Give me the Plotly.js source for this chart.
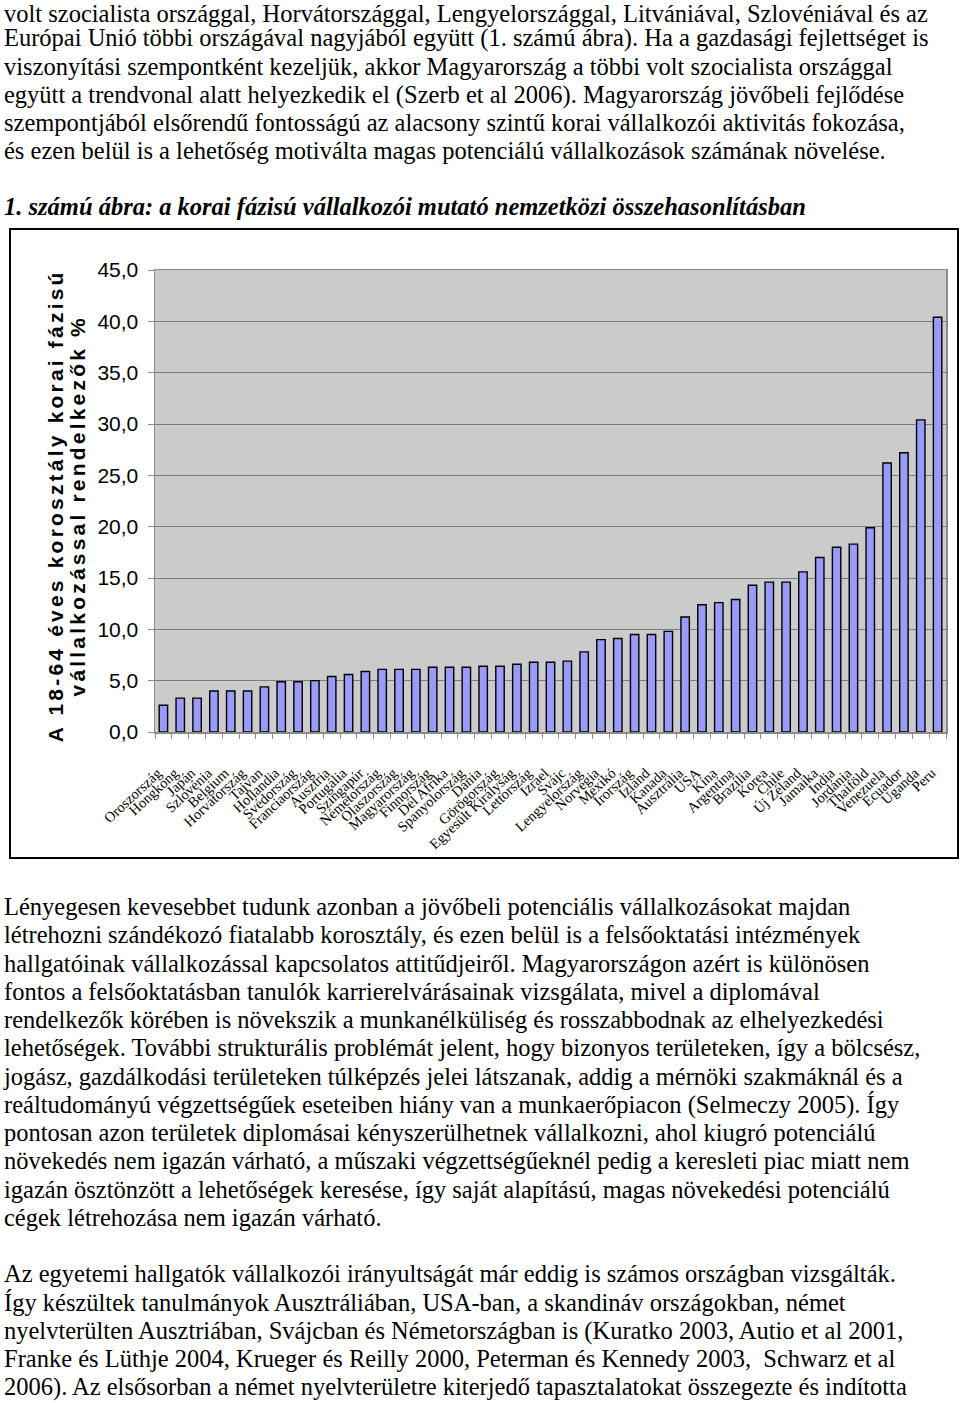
<!DOCTYPE html>
<html>
<head>
<meta charset="utf-8">
<script src="https://cdn.plot.ly/plotly-3.0.1.min.js"></script>
<style>
  body { margin:0; width:960px; height:1403px; position:relative; overflow:hidden; background:#fff; }
  .ln { position:absolute; left:4px; white-space:nowrap; font-family:'Liberation Serif','Times New Roman',serif; font-size:24.5px; line-height:20px; color:#000; }
  .cap { font-weight:bold; font-style:italic; }
  #box { position:absolute; left:9px; top:228px; width:950px; height:631px; border:2px solid #000; box-sizing:border-box; }
  #chart { position:absolute; left:0; top:0; width:946px; height:627px; }
</style>
</head>
<body>
<div id="text"></div>
<div id="box"><div id="chart"></div></div>
<script>
// ---------- data ----------
const categories = ["Oroszország","Hongkong","Japán","Szlovénia","Belgium","Horvátország","Tajvan","Hollandia","Svédország","Franciaország","Ausztria","Portugália","Szingapúr","Németország","Olaszország","Magyarország","Finnország","Dél Afrika","Spanyolország","Dánia","Görögország","Egyesült Királyság","Lettország","Izrael","Svájc","Lengyelország","Norvégia","Mexikó","Írország","Izland","Kanada","Ausztrália","USA","Kína","Argentína","Brazília","Korea","Chile","Új Zéland","Jamaika","India","Jordánia","Thaiföld","Venezuela","Ecuador","Uganda","Peru"];
const values = [2.6,3.3,3.3,4.0,4.0,4.0,4.4,4.9,4.9,5.0,5.4,5.6,5.9,6.1,6.1,6.1,6.3,6.3,6.3,6.4,6.4,6.6,6.8,6.8,6.9,7.8,9.0,9.1,9.5,9.5,9.8,11.2,12.4,12.6,12.9,14.3,14.6,14.6,15.6,17.0,18.0,18.3,19.9,26.2,27.2,30.4,40.4];
const yTitleLines = ["A 18-64 éves korosztály korai fázisú","vállalkozással rendelkezők %"];
const captionText = "1. számú ábra: a korai fázisú vállalkozói mutató nemzetközi összehasonlításban";
const topLines = [
 "volt szocialista országgal, Horvátországgal, Lengyelországgal, Litvániával, Szlovéniával és az",
 "Európai Unió többi országával nagyjából együtt (1. számú ábra). Ha a gazdasági fejlettséget is",
 "viszonyítási szempontként kezeljük, akkor Magyarország a többi volt szocialista országgal",
 "együtt a trendvonal alatt helyezkedik el (Szerb et al 2006). Magyarország jövőbeli fejlődése",
 "szempontjából elsőrendű fontosságú az alacsony szintű korai vállalkozói aktivitás fokozása,",
 "és ezen belül is a lehetőség motiválta magas potenciálú vállalkozások számának növelése."
];
const para2Lines = [
 "Lényegesen kevesebbet tudunk azonban a jövőbeli potenciális vállalkozásokat majdan",
 "létrehozni szándékozó fiatalabb korosztály, és ezen belül is a felsőoktatási intézmények",
 "hallgatóinak vállalkozással kapcsolatos attitűdjeiről. Magyarországon azért is különösen",
 "fontos a felsőoktatásban tanulók karrierelvárásainak vizsgálata, mivel a diplomával",
 "rendelkezők körében is növekszik a munkanélküliség és rosszabbodnak az elhelyezkedési",
 "lehetőségek. További strukturális problémát jelent, hogy bizonyos területeken, így a bölcsész,",
 "jogász, gazdálkodási területeken túlképzés jelei látszanak, addig a mérnöki szakmáknál és a",
 "reáltudományú végzettségűek eseteiben hiány van a munkaerőpiacon (Selmeczy 2005). Így",
 "pontosan azon területek diplomásai kényszerülhetnek vállalkozni, ahol kiugró potenciálú",
 "növekedés nem igazán várható, a műszaki végzettségűeknél pedig a keresleti piac miatt nem",
 "igazán ösztönzött a lehetőségek keresése, így saját alapítású, magas növekedési potenciálú",
 "cégek létrehozása nem igazán várható."
];
const para3Lines = [
 "Az egyetemi hallgatók vállalkozói irányultságát már eddig is számos országban vizsgálták.",
 "Így készültek tanulmányok Ausztráliában, USA-ban, a skandináv országokban, német",
 "nyelvterülten Ausztriában, Svájcban és Németországban is (Kuratko 2003, Autio et al 2001,",
 "Franke és Lüthje 2004, Krueger és Reilly 2000, Peterman és Kennedy 2003,\u00a0 Schwarz et al",
 "2006). Az elsősorban a német nyelvterületre kiterjedő tapasztalatokat összegezte és indította"
];

// ---------- text ----------
const holder = document.getElementById('text');
const LH = 28.25, ASC = 18.27;
function addLine(t, baseline, cls) {
  const d = document.createElement('div');
  d.className = 'ln' + (cls ? ' ' + cls : '');
  d.textContent = t;
  d.style.top = (baseline - ASC) + 'px';
  holder.appendChild(d);
}
function addLines(lines, firstBaseline, cls) {
  lines.forEach((t, i) => addLine(t, firstBaseline + i * LH, cls));
}
// first line kept fully inside the page (the scan clips its top)
addLine(topLines[0], 22, '');
addLines(topLines.slice(1), 18.5 + LH, '');
addLines([captionText], 215, 'cap');
addLines(para2Lines, 915.5, '');
addLines(para3Lines, 915.5 + 13 * LH, '');

// ---------- chart ----------
const trace = {
  type: 'bar',
  x: categories,
  y: values,
  marker: { color: '#9a9af8', line: { color: '#000', width: 1.4 } },
  hoverinfo: 'x+y'
};
const titleFont = { family: 'Liberation Sans, Arial, sans-serif', size: 21, color: '#000', weight: 'bold' };
const layout = {
  width: 946, height: 627,
  margin: { l: 144, r: 11, t: 40, b: 125, pad: 0 },
  paper_bgcolor: '#fff',
  plot_bgcolor: '#cbcbcb',
  separators: ', ',
  bargap: 0.5,
  showlegend: false,
  font: { family: 'Liberation Sans, Arial, sans-serif', color: '#000' },
  xaxis: {
    type: 'category',
    automargin: false,
    tickmode: 'array', tickvals: categories, ticktext: categories,
    tickangle: -43,
    tickfont: { family: 'Liberation Serif, Times New Roman, serif', size: 14.5, color: '#000' },
    ticks: 'outside', tickson: 'boundaries', ticklen: 5, tickcolor: '#8a8a8a', tickwidth: 1,
    ticklabelstandoff: 20,
    showline: true, linecolor: '#8a8a8a', linewidth: 1.5, mirror: true,
    showgrid: false
  },
  yaxis: {
    automargin: false,
    range: [0, 45], dtick: 5, tick0: 0,
    tickformat: '.1f',
    tickfont: { family: 'Liberation Sans, Arial, sans-serif', size: 21, color: '#000' },
    ticks: 'outside', ticklen: 6, tickcolor: '#8a8a8a', tickwidth: 1,
    ticklabelstandoff: 5,
    showline: true, linecolor: '#8a8a8a', linewidth: 1.5, mirror: true,
    gridcolor: '#7c7c7c', gridwidth: 1,
    zeroline: false
  },
  annotations: [
    { xref: 'paper', yref: 'paper', x: -0.1252, y: 0.49, xanchor: 'center', yanchor: 'middle',
      textangle: -90, showarrow: false, text: yTitleLines[0], font: titleFont },
    { xref: 'paper', yref: 'paper', x: -0.0973, y: 0.49, xanchor: 'center', yanchor: 'middle',
      textangle: -90, showarrow: false, text: yTitleLines[1], font: titleFont }
  ]
};
Plotly.newPlot('chart', [trace], layout, { staticPlot: true, displayModeBar: false }).then(() => {
  document.querySelectorAll('#chart .annotation-text').forEach(el => {
    el.style.letterSpacing = '3.2px';
  });
  // nudge rotated category labels back along their own direction, as in the original
  document.querySelectorAll('#chart .xtick text').forEach(el => {
    const t = el.getAttribute('transform') || '';
    el.setAttribute('transform', t + ' translate(-8,0)');
  });
});
</script>
</body>
</html>
